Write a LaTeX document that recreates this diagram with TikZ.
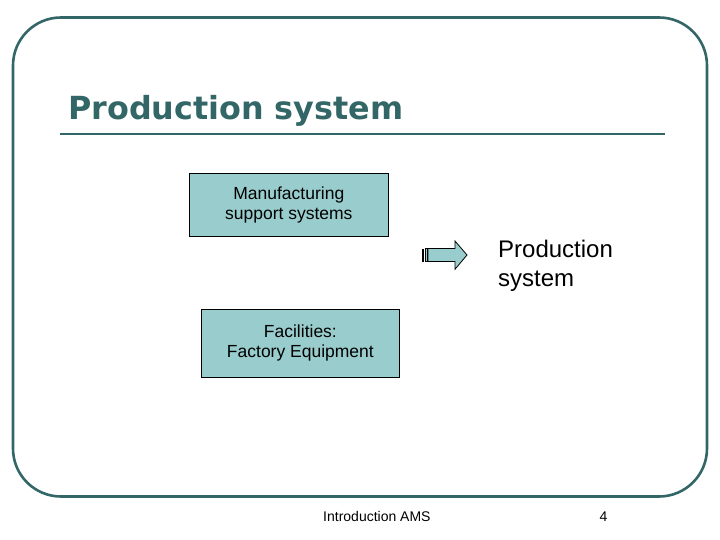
\documentclass[tikz,border=0pt]{standalone}
\usepackage{fontspec}
\setmainfont{Liberation Sans}
\newfontfamily\titlefont{DejaVu Sans}
\usetikzlibrary{positioning}
\definecolor{frameteal}{RGB}{51,102,102}
\definecolor{boxteal}{RGB}{153,204,204}

\begin{document}
\begin{tikzpicture}[x=1pt, y=-1pt,
  box/.style={draw=black, line width=0.8pt, fill=boxteal, align=center, inner sep=0pt,
    font=\fontsize{17.5}{20}\selectfont}]
\useasboundingbox (0,0) rectangle (720,540);

% Slide frame and title %
\draw[frameteal, line width=2.6pt, rounded corners=48pt] (13,17.5) rectangle (707,496.5);
\node[anchor=base west, inner sep=0pt, text=frameteal, font=\titlefont\bfseries\fontsize{31.8}{36}\selectfont] (title) at (68,120) {Production system};
\draw[frameteal, line width=2.6pt] (60,134) -- (665,134);

% Boxes %
\node[box, minimum width=199pt, minimum height=62.7pt] (support) at (288.8,204.7) {Manufacturing\\support systems};
\node[box, minimum width=197.3pt, minimum height=68pt] (facilities) at (300.4,343.3) {Facilities:\\Factory Equipment};

% Striped arrow %
\fill[black] (421.7,248.5) rectangle (423.7,261.5);
\draw[fill=boxteal, line width=0.8pt] (425,248.5) rectangle (427.5,261.5);
\draw[fill=boxteal, line width=0.8pt] (428,248.5) -- (455,248.5) -- (455,241) -- (467,255)
  -- (455,269.3) -- (455,261.5) -- (428,261.5) -- cycle;
\node[anchor=base west, inner sep=0pt, align=left, font=\fontsize{24}{29}\selectfont] (result) at (498,286.5) {Production\\system};

% Footer %
\node[anchor=base west, inner sep=0pt, font=\fontsize{14}{16}\selectfont] (footer) at (323,521) {Introduction AMS};
\node[anchor=base west, inner sep=0pt, font=\fontsize{14}{16}\selectfont] (page) at (599.5,521) {4};
\end{tikzpicture}
\end{document}
